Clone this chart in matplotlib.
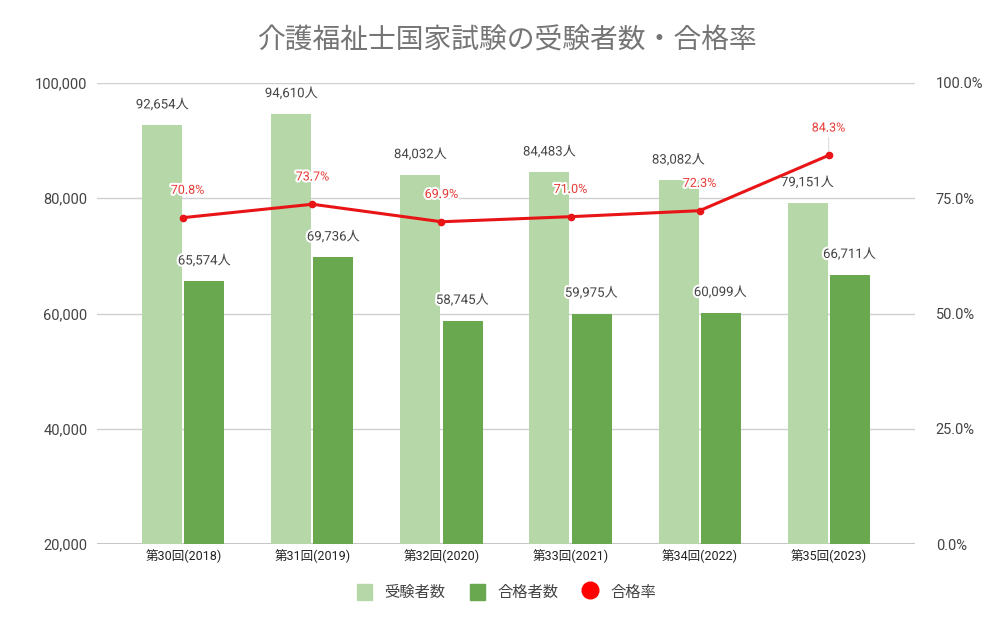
import matplotlib.pyplot as plt
import matplotlib.patheffects as pe
from matplotlib.lines import Line2D
from matplotlib.patches import Patch
import numpy as np

plt.rcParams['font.family'] = ['Roboto', 'Noto Sans CJK JP', 'DejaVu Sans']

categories = ['第30回(2018)', '第31回(2019)', '第32回(2020)', '第33回(2021)', '第34回(2022)', '第35回(2023)']
examinees = [92654, 94610, 84032, 84483, 83082, 79151]
passers = [65574, 69736, 58745, 59975, 60099, 66711]
pass_rate = [70.8, 73.7, 69.9, 71.0, 72.3, 84.3]

light = '#b6d7a8'
dark = '#6aa84f'
red = '#e81416'
txt = '#444444'

fig = plt.figure(figsize=(10.07, 6.27), dpi=100)
ax = fig.add_axes([97/1007, 83/627, (915-97)/1007, (544-83)/627])
ax2 = ax.twinx()

x = np.arange(len(categories))
w = 0.31
off = 0.163

ax.bar(x - off, examinees, w, color=light, zorder=2)
ax.bar(x + off, passers, w, color=dark, zorder=2)

halo = [pe.withStroke(linewidth=3, foreground='white')]
for i in range(len(x)):
    ax.annotate(f'{examinees[i]:,}人', (x[i] - off, examinees[i]), xytext=(0, 10),
                textcoords='offset points', ha='center', va='bottom', fontsize=9.5,
                color=txt, path_effects=halo, zorder=5)
    ax.annotate(f'{passers[i]:,}人', (x[i] + off, passers[i]), xytext=(0, 10),
                textcoords='offset points', ha='center', va='bottom', fontsize=9.5,
                color=txt, path_effects=halo, zorder=5)

ax.set_ylim(20000, 100000)
ax.set_yticks(range(20000, 100001, 20000))
ax.set_yticklabels([f'{v:,}' for v in range(20000, 100001, 20000)])
ax.set_xlim(-0.67, len(x) - 1 + 0.67)
ax.set_xticks(x)
ax.set_xticklabels(categories, fontsize=9, color='#222222')
ax.grid(axis='y', color='#d0d0d0', lw=1, zorder=0)
ax.set_axisbelow(True)
ax.axhline(20000, color='#bdbdbd', lw=1.2, zorder=1)
for s in ax.spines.values():
    s.set_visible(False)
for s in ax2.spines.values():
    s.set_visible(False)
ax.tick_params(axis='y', length=0, pad=7, labelsize=10.5, labelcolor=txt)
ax.tick_params(axis='x', length=0, pad=4)

ax2.plot(x, pass_rate, color=red, lw=2.2, marker='o', ms=4.5, zorder=3)
for i in range(len(x)):
    ax2.annotate(f'{pass_rate[i]:.1f}%', (x[i], pass_rate[i]), xytext=(3 if i == 0 else 0, 15),
                 textcoords='offset points', ha='center', va='bottom', fontsize=9,
                 color='#e53935', path_effects=halo, zorder=6)
# leader line for the last label
ax2.annotate('', (x[-1], pass_rate[-1]), xytext=(x[-1], pass_rate[-1] + 4.5),
             arrowprops=dict(arrowstyle='-', color='#dddddd', lw=0.8), zorder=2)
ax2.set_ylim(0, 100)
ax2.set_yticks([0, 25, 50, 75, 100])
ax2.set_yticklabels([f'{v:.1f}%' for v in [0, 25, 50, 75, 100]])
ax2.tick_params(axis='y', length=0, pad=15, labelsize=10.5, labelcolor=txt)

fig.text(0.503, 0.935, '介護福祉士国家試験の受験者数・合格率', ha='center', va='center',
         fontsize=20, color='#757575')

handles = [Patch(color=light, label='受験者数'),
           Patch(color=dark, label='合格者数'),
           Line2D([], [], color='red', marker='o', ls='none', ms=12, label='合格率')]
fig.legend(handles=handles, loc='center', bbox_to_anchor=(0.503, 0.056), ncol=3,
           frameon=False, fontsize=11, handlelength=1.0, handleheight=1.2,
           columnspacing=1.6, handletextpad=0.8, labelcolor=txt)

plt.savefig('out.png', dpi=100)
